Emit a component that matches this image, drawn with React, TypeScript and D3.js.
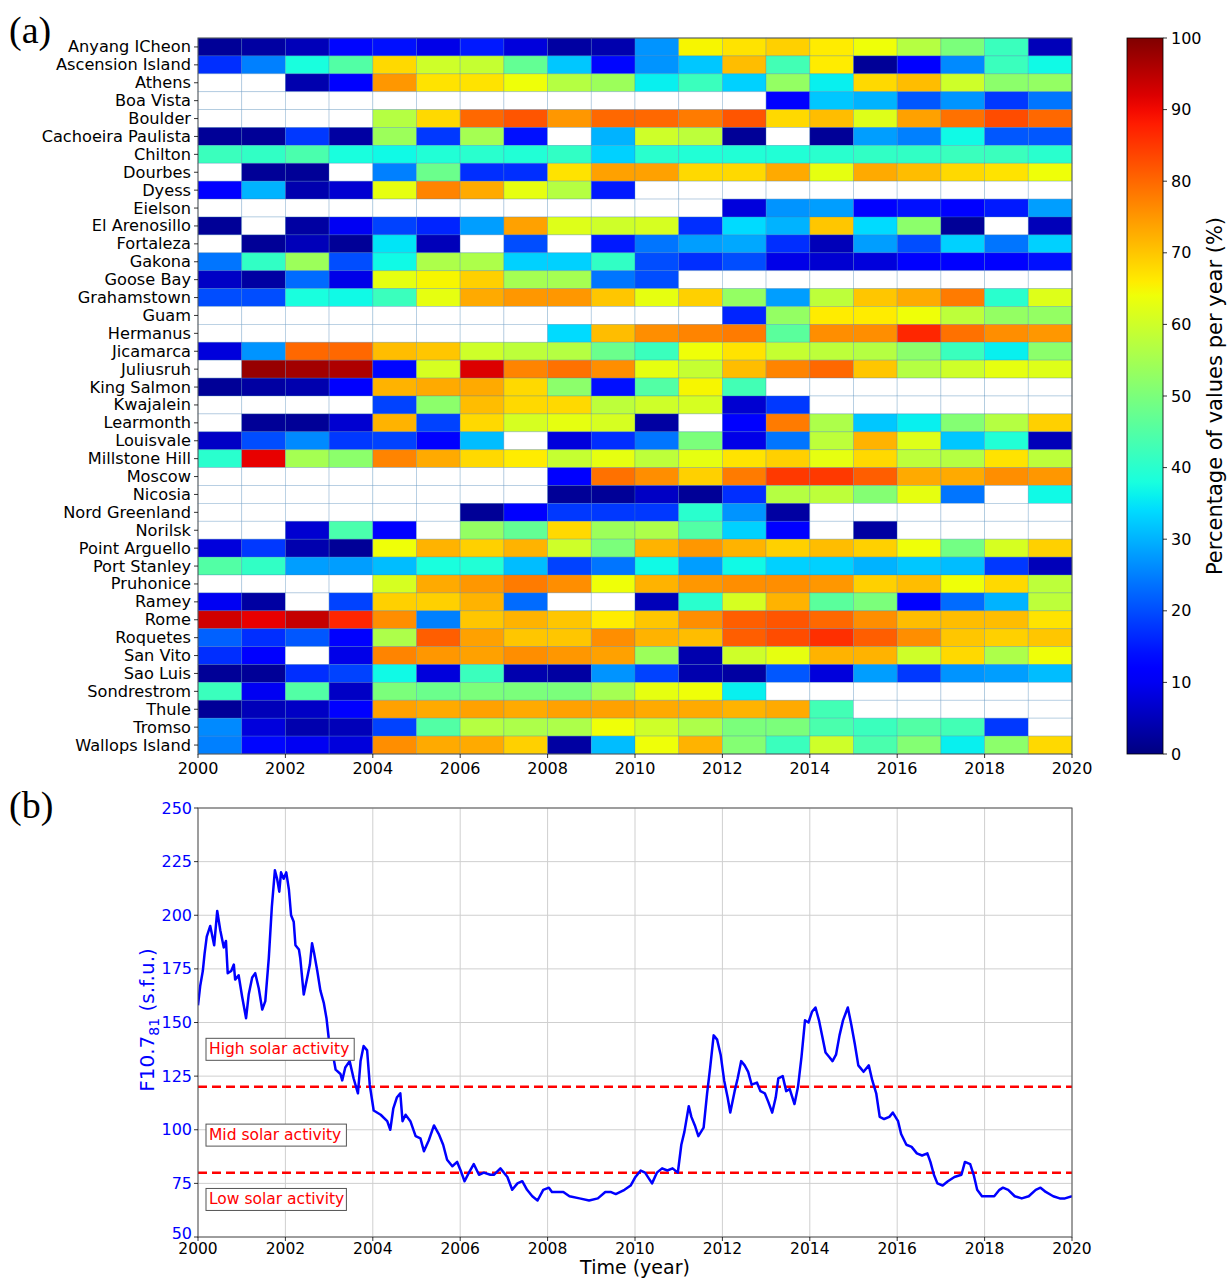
import React from "react";
import * as d3 from "d3";

const N = null;

const stations = [
  "Anyang ICheon", "Ascension Island", "Athens", "Boa Vista", "Boulder",
  "Cachoeira Paulista", "Chilton", "Dourbes", "Dyess", "Eielson",
  "El Arenosillo", "Fortaleza", "Gakona", "Goose Bay", "Grahamstown",
  "Guam", "Hermanus", "Jicamarca", "Juliusruh", "King Salmon",
  "Kwajalein", "Learmonth", "Louisvale", "Millstone Hill", "Moscow",
  "Nicosia", "Nord Greenland", "Norilsk", "Point Arguello", "Port Stanley",
  "Pruhonice", "Ramey", "Rome", "Roquetes", "San Vito",
  "Sao Luis", "Sondrestrom", "Thule", "Tromso", "Wallops Island",
];

const years = [2000, 2001, 2002, 2003, 2004, 2005, 2006, 2007, 2008, 2009,
  2010, 2011, 2012, 2013, 2014, 2015, 2016, 2017, 2018, 2019];

const coverage: (number | null)[][] = [
  [2, 3, 5, 13, 14, 9, 15, 8, 3, 4, 27, 65, 67, 69, 66, 64, 57, 50, 42, 5],
  [17, 25, 38, 45, 68, 60, 59, 47, 32, 13, 27, 32, 71, 43, 66, 2, 11, 26, 42, 37],
  [N, N, 4, 11, 75, 67, 67, 64, 57, 54, 36, 42, 33, 53, 36, 68, 71, 60, 52, 53],
  [N, N, N, N, N, N, N, N, N, N, N, N, N, 12, 32, 30, 21, 27, 18, 24],
  [N, N, N, N, 57, 68, 80, 82, 75, 80, 80, 78, 82, 68, 71, 62, 74, 79, 83, 80],
  [2, 2, 18, 3, 54, 18, 55, 14, N, 30, 60, 58, 2, N, 2, 28, 25, 37, 21, 21],
  [42, 41, 44, 38, 37, 39, 40, 39, 41, 33, 40, 39, 39, 39, 40, 41, 41, 42, 42, 40],
  [N, 2, 2, N, 25, 48, 17, 17, 67, 74, 74, 68, 68, 73, 63, 73, 71, 68, 67, 64],
  [11, 30, 4, 7, 63, 77, 73, 63, 57, 15, N, N, N, N, N, N, N, N, N, N],
  [N, N, N, N, N, N, N, N, N, N, N, N, 8, 27, 28, 11, 14, 11, 15, 28],
  [2, N, 3, 10, 19, 16, 28, 74, 62, 60, 61, 17, 34, 30, 70, 34, 52, 2, N, 5],
  [N, 2, 5, 2, 35, 5, N, 20, N, 15, 24, 28, 29, 17, 5, 28, 20, 33, 24, 33],
  [24, 41, 54, 20, 37, 56, 56, 33, 33, 41, 20, 17, 20, 9, 7, 8, 11, 12, 12, 14],
  [6, 3, 23, 9, 63, 65, 69, 55, 55, 24, 20, N, N, N, N, N, N, N, N, N],
  [20, 20, 38, 37, 42, 63, 73, 75, 75, 70, 63, 69, 53, 28, 58, 70, 73, 78, 40, 62],
  [N, N, N, N, N, N, N, N, N, N, N, N, 16, 53, 66, 66, 64, 58, 53, 53],
  [N, N, N, N, N, N, N, N, 34, 71, 76, 77, 78, 46, 76, 76, 87, 79, 76, 75],
  [8, 27, 80, 80, 71, 70, 60, 58, 57, 48, 42, 64, 67, 59, 58, 57, 52, 42, 36, 52],
  [N, 98, 97, 96, 13, 61, 92, 77, 79, 76, 63, 59, 71, 77, 80, 70, 57, 60, 63, 62],
  [2, 3, 4, 11, 72, 73, 73, 68, 52, 14, 45, 65, 43, N, N, N, N, N, N, N],
  [N, N, N, N, 19, 52, 71, 68, 68, 58, 60, 61, 7, 18, N, N, N, N, N, N],
  [N, 2, 2, 7, 72, 19, 68, 61, 63, 61, 3, N, 11, 78, 56, 32, 36, 51, 57, 69],
  [6, 20, 26, 18, 19, 12, 31, N, 8, 17, 24, 50, 9, 24, 58, 72, 62, 32, 39, 5],
  [40, 91, 55, 52, 77, 73, 68, 66, 59, 63, 58, 63, 67, 69, 63, 68, 58, 57, 67, 58],
  [N, N, N, N, N, N, N, N, 12, 79, 76, 69, 78, 85, 85, 81, 73, 73, 76, 75],
  [N, N, N, N, N, N, N, N, 2, 2, 6, 2, 17, 57, 58, 51, 63, 24, N, 37],
  [N, N, N, N, N, N, 2, 11, 18, 18, 18, 40, 27, 3, N, N, N, N, N, N],
  [N, N, 7, 44, 11, N, 53, 47, 68, 54, 56, 45, 33, 12, N, 3, N, N, N, N],
  [8, 18, 4, 2, 64, 72, 69, 72, 60, 50, 72, 75, 72, 69, 71, 69, 64, 49, 61, 69],
  [45, 41, 28, 28, 31, 38, 39, 31, 19, 24, 37, 28, 37, 33, 33, 30, 32, 31, 18, 5],
  [N, N, N, N, 61, 73, 75, 78, 76, 64, 72, 75, 76, 76, 75, 69, 71, 64, 68, 58],
  [10, 3, N, 19, 69, 69, 72, 23, N, N, 5, 40, 61, 72, 46, 50, 11, 23, 30, 58],
  [93, 91, 94, 87, 76, 25, 70, 72, 70, 66, 70, 76, 81, 82, 80, 76, 71, 71, 71, 67],
  [22, 17, 21, 11, 56, 81, 74, 70, 70, 76, 72, 71, 81, 83, 86, 81, 76, 70, 69, 70],
  [17, 11, N, 9, 77, 75, 74, 76, 75, 74, 54, 4, 60, 63, 72, 72, 60, 68, 56, 64],
  [2, 2, 17, 19, 37, 8, 42, 4, 3, 27, 19, 4, 3, 21, 8, 28, 18, 27, 28, 31],
  [42, 10, 45, 6, 50, 48, 50, 50, 50, 55, 63, 64, 36, N, N, N, N, N, N, N],
  [2, 5, 6, 11, 74, 73, 74, 73, 74, 74, 73, 73, 72, 73, 43, N, N, N, N, N],
  [26, 8, 4, 5, 19, 45, 57, 56, 56, 64, 60, 56, 50, 50, 44, 42, 45, 43, 18, N],
  [25, 13, 10, 8, 76, 73, 73, 69, 3, 31, 64, 72, 51, 42, 60, 44, 51, 36, 52, 68],
];

const colorbarTicks = [0, 10, 20, 30, 40, 50, 60, 70, 80, 90, 100];
const yearTicks = [2000, 2002, 2004, 2006, 2008, 2010, 2012, 2014, 2016, 2018, 2020];
const fluxTicks = [50, 75, 100, 125, 150, 175, 200, 225, 250];
const thresholds = [120, 80];

const fluxDates = [
  2000.0, 2000.05, 2000.11, 2000.15, 2000.2, 2000.28, 2000.32, 2000.37, 2000.44, 2000.51,
  2000.59, 2000.64, 2000.68, 2000.76, 2000.82, 2000.85, 2000.93, 2001.01, 2001.1, 2001.16,
  2001.24, 2001.31, 2001.39, 2001.47, 2001.54, 2001.62, 2001.69, 2001.76, 2001.81, 2001.86,
  2001.9, 2001.96, 2002.02, 2002.08, 2002.13, 2002.19, 2002.23, 2002.31, 2002.34, 2002.42,
  2002.5, 2002.56, 2002.61, 2002.66, 2002.73, 2002.8, 2002.88, 2002.94, 2002.99, 2003.07,
  2003.15, 2003.26, 2003.3, 2003.37, 2003.47, 2003.56, 2003.66, 2003.72, 2003.79, 2003.87,
  2003.93, 2004.02, 2004.18, 2004.33, 2004.4, 2004.47, 2004.55, 2004.63, 2004.68, 2004.75,
  2004.86, 2004.98, 2005.09, 2005.17, 2005.28, 2005.4, 2005.51, 2005.61, 2005.7, 2005.82,
  2005.93, 2006.01, 2006.1, 2006.2, 2006.31, 2006.43, 2006.54, 2006.69, 2006.77, 2006.92,
  2007.08, 2007.19, 2007.31, 2007.42, 2007.53, 2007.65, 2007.77, 2007.9, 2008.03, 2008.1,
  2008.26, 2008.36, 2008.5, 2008.73, 2008.95, 2009.15, 2009.32, 2009.44, 2009.56, 2009.76,
  2009.9, 2010.01, 2010.13, 2010.23, 2010.39, 2010.5, 2010.62, 2010.74, 2010.86, 2010.98,
  2011.06, 2011.13, 2011.23, 2011.29, 2011.37, 2011.45, 2011.57, 2011.65, 2011.72, 2011.8,
  2011.88, 2011.96, 2012.04, 2012.12, 2012.18, 2012.28, 2012.35, 2012.43, 2012.51, 2012.59,
  2012.67, 2012.79, 2012.87, 2012.97, 2013.05, 2013.14, 2013.22, 2013.28, 2013.38, 2013.46,
  2013.54, 2013.65, 2013.73, 2013.81, 2013.89, 2013.97, 2014.05, 2014.13, 2014.21, 2014.28,
  2014.36, 2014.44, 2014.52, 2014.6, 2014.68, 2014.76, 2014.87, 2014.95, 2015.03, 2015.11,
  2015.23, 2015.35, 2015.43, 2015.52, 2015.6, 2015.7, 2015.82, 2015.9, 2016.02, 2016.09,
  2016.21, 2016.33, 2016.45, 2016.57, 2016.69, 2016.76, 2016.84, 2016.92, 2017.04, 2017.16,
  2017.31, 2017.47, 2017.55, 2017.67, 2017.75, 2017.83, 2017.94, 2018.1, 2018.22, 2018.34,
  2018.42, 2018.54, 2018.69, 2018.85, 2019.01, 2019.17, 2019.28, 2019.4, 2019.57, 2019.72,
  2019.84, 2020.0,
];

const fluxValues = [
  158, 167, 174, 182, 190, 195, 191, 186, 202, 193,
  185, 188, 173, 174, 177, 170, 172, 162, 152, 163,
  171, 173, 166, 156, 160, 180, 204, 221, 217, 211,
  220, 217, 220, 212, 200, 197, 186, 184, 180, 163,
  171, 177, 187, 182, 174, 165, 159, 152, 143, 137,
  128, 126, 123, 129, 132, 124, 117, 132, 139, 137,
  121, 109, 107, 104, 100, 110, 115, 117, 104, 107,
  104, 97, 96, 90, 95, 102, 98, 93, 86, 83,
  85, 81, 76, 80, 84, 79, 80, 79, 79, 82,
  78, 72, 75, 76, 72, 69, 67, 72, 73, 71,
  71, 71, 69, 68, 67, 68, 71, 71, 70, 72,
  74, 78, 81, 80, 75, 80, 82, 81, 82, 80,
  93, 99, 111, 106, 102, 97, 101, 117, 129, 144,
  142, 135, 123, 115, 108, 118, 124, 132, 130, 127,
  121, 122, 118, 117, 113, 108, 115, 124, 125, 118,
  119, 112, 120, 134, 151, 150, 155, 157, 151, 144,
  136, 134, 132, 135, 144, 151, 157, 149, 140, 130,
  127, 130, 123, 117, 106, 105, 106, 108, 104, 98,
  93, 92, 89, 88, 89, 85, 79, 75, 74, 76,
  78, 79, 85, 84, 79, 72, 69, 69, 69, 72,
  73, 72, 69, 68, 69, 72, 73, 71, 69, 68,
  68, 69,
];

const activityLabels = ["High solar activity", "Mid solar activity", "Low solar activity"];
const activityLabelLevels = [137.5, 97.5, 67.5];

const FONT = "'DejaVu Sans', Verdana, sans-serif";

// matplotlib "jet" colormap
const jr = d3.scaleLinear().domain([0, 0.35, 0.66, 0.89, 1]).range([0, 0, 1, 1, 0.5]).clamp(true);
const jg = d3.scaleLinear().domain([0, 0.125, 0.375, 0.64, 0.91, 1]).range([0, 0, 1, 1, 0, 0]).clamp(true);
const jb = d3.scaleLinear().domain([0, 0.11, 0.34, 0.65, 1]).range([0.5, 1, 1, 0, 0]).clamp(true);
function jet(t: number): string {
  return d3.rgb(jr(t) * 255, jg(t) * 255, jb(t) * 255).formatHex();
}

export default function App() {
  const hx = d3.scaleLinear().domain([2000, 2020]).range([198, 1072]);
  const hy = d3.scaleBand<string>().domain(stations).range([38, 754]).padding(0);
  const hTop = 38, hBottom = 754;

  const cbX0 = 1127, cbX1 = 1163;
  const cbY = d3.scaleLinear().domain([0, 100]).range([754, 38]);
  const gradStops = d3.range(0, 101, 2);

  const lx = d3.scaleLinear().domain([2000, 2020]).range([198, 1072]);
  const ly = d3.scaleLinear().domain([50, 250]).range([1237, 808]);
  const linePts: [number, number][] = fluxDates.map((d, i) => [d, fluxValues[i]]);
  const lineGen = d3.line<[number, number]>().x(d => lx(d[0])).y(d => ly(d[1]));

  return (
    <svg width={1232} height={1281} style={{ position: "absolute", left: 0, top: 0, background: "#fff" }}
      fontFamily={FONT}>
      <rect x={0} y={0} width={1232} height={1281} fill="#fff" />
      <defs>
        <linearGradient id="jetgrad" x1="0" y1="1" x2="0" y2="0">
          {gradStops.map(s => (
            <stop key={s} offset={`${s}%`} stopColor={jet(s / 100)} />
          ))}
        </linearGradient>
        <clipPath id="lineclip">
          <rect x={198} y={808} width={874} height={429} />
        </clipPath>
      </defs>

      <text x={9} y={43} fontFamily="'Liberation Serif', 'DejaVu Serif', serif" fontSize={38}>(a)</text>
      <text x={9} y={818} fontFamily="'Liberation Serif', 'DejaVu Serif', serif" fontSize={38}>(b)</text>

      <g>
        {stations.map((st, i) =>
          years.map((yr, j) => {
            const v = coverage[i][j];
            return (
              <rect key={`${i}-${j}`} x={hx(yr)} y={hy(st)!}
                width={hx(yr + 1) - hx(yr)} height={hy.bandwidth()}
                fill={v === null ? "#ffffff" : jet(v / 100)}
                stroke="rgba(70,130,180,0.35)" strokeWidth={0.8} />
            );
          })
        )}
      </g>
      <rect x={198} y={hTop} width={874} height={hBottom - hTop} fill="none" stroke="#555" strokeWidth={1} />

      {stations.map(st => {
        const cy = hy(st)! + hy.bandwidth() / 2;
        return (
          <g key={st}>
            <line x1={194} x2={198} y1={cy} y2={cy} stroke="#000" strokeWidth={0.8} />
            <text x={191} y={cy} textAnchor="end" dominantBaseline="central" fontSize={16.2}>{st}</text>
          </g>
        );
      })}

      {yearTicks.map(t => (
        <g key={t}>
          <line x1={hx(t)} x2={hx(t)} y1={hBottom} y2={hBottom + 4} stroke="#000" strokeWidth={0.8} />
          <text x={hx(t)} y={774} textAnchor="middle" fontSize={16}>{t}</text>
        </g>
      ))}

      <rect x={cbX0} y={38} width={cbX1 - cbX0} height={716} fill="url(#jetgrad)" stroke="#000" strokeWidth={0.8} />
      {colorbarTicks.map(t => (
        <g key={t}>
          <line x1={cbX1} x2={cbX1 + 4} y1={cbY(t)} y2={cbY(t)} stroke="#000" strokeWidth={0.8} />
          <text x={cbX1 + 8} y={cbY(t)} dominantBaseline="central" fontSize={16}>{t}</text>
        </g>
      ))}
      <text transform={`translate(1222,396) rotate(-90)`} textAnchor="middle" fontSize={21}>
        Percentage of values per year (%)
      </text>

      {yearTicks.map(t => (
        <line key={`gx${t}`} x1={lx(t)} x2={lx(t)} y1={808} y2={1237} stroke="#cfcfcf" strokeWidth={1} />
      ))}
      {fluxTicks.map(t => (
        <line key={`gy${t}`} x1={198} x2={1072} y1={ly(t)} y2={ly(t)} stroke="#cfcfcf" strokeWidth={1} />
      ))}

      {thresholds.map(t => (
        <line key={`th${t}`} x1={198} x2={1072} y1={ly(t)} y2={ly(t)} stroke="#ff0000"
          strokeWidth={2.5} strokeDasharray="9,5" />
      ))}

      <path d={lineGen(linePts) || ""} fill="none" stroke="#0000ff" strokeWidth={2.5}
        strokeLinejoin="round" clipPath="url(#lineclip)" />

      {activityLabels.map((lab, i) => {
        const cy = ly(activityLabelLevels[i]);
        const w = lab.length * 7.8;
        return (
          <g key={lab}>
            <rect x={206} y={cy - 11} width={w} height={22} fill="#fff" stroke="#555" strokeWidth={1} />
            <text x={209} y={cy} dominantBaseline="central" fontSize={15.5} fill="#ff0000">{lab}</text>
          </g>
        );
      })}

      <rect x={198} y={808} width={874} height={429} fill="none" stroke="#555" strokeWidth={1} />

      {fluxTicks.map(t => (
        <g key={`yt${t}`}>
          <line x1={194} x2={198} y1={ly(t)} y2={ly(t)} stroke="#000" strokeWidth={0.8} />
          <text x={192} y={ly(t) - (t === 50 ? 4 : 0)} textAnchor="end" dominantBaseline="central" fontSize={16} fill="#0000ff">{t}</text>
        </g>
      ))}
      {yearTicks.map(t => (
        <g key={`xt${t}`}>
          <line x1={lx(t)} x2={lx(t)} y1={1237} y2={1241} stroke="#000" strokeWidth={0.8} />
          <text x={lx(t)} y={1254} textAnchor="middle" fontSize={15.5}>{t}</text>
        </g>
      ))}
      <text x={635} y={1274} textAnchor="middle" fontSize={19}>Time (year)</text>
      <text transform={`translate(154,1020) rotate(-90)`} textAnchor="middle" fontSize={20} fill="#0000ff">
        F10.7<tspan fontSize={14} dy={5}>81</tspan><tspan dy={-5}> (s.f.u.)</tspan>
      </text>
    </svg>
  );
}
